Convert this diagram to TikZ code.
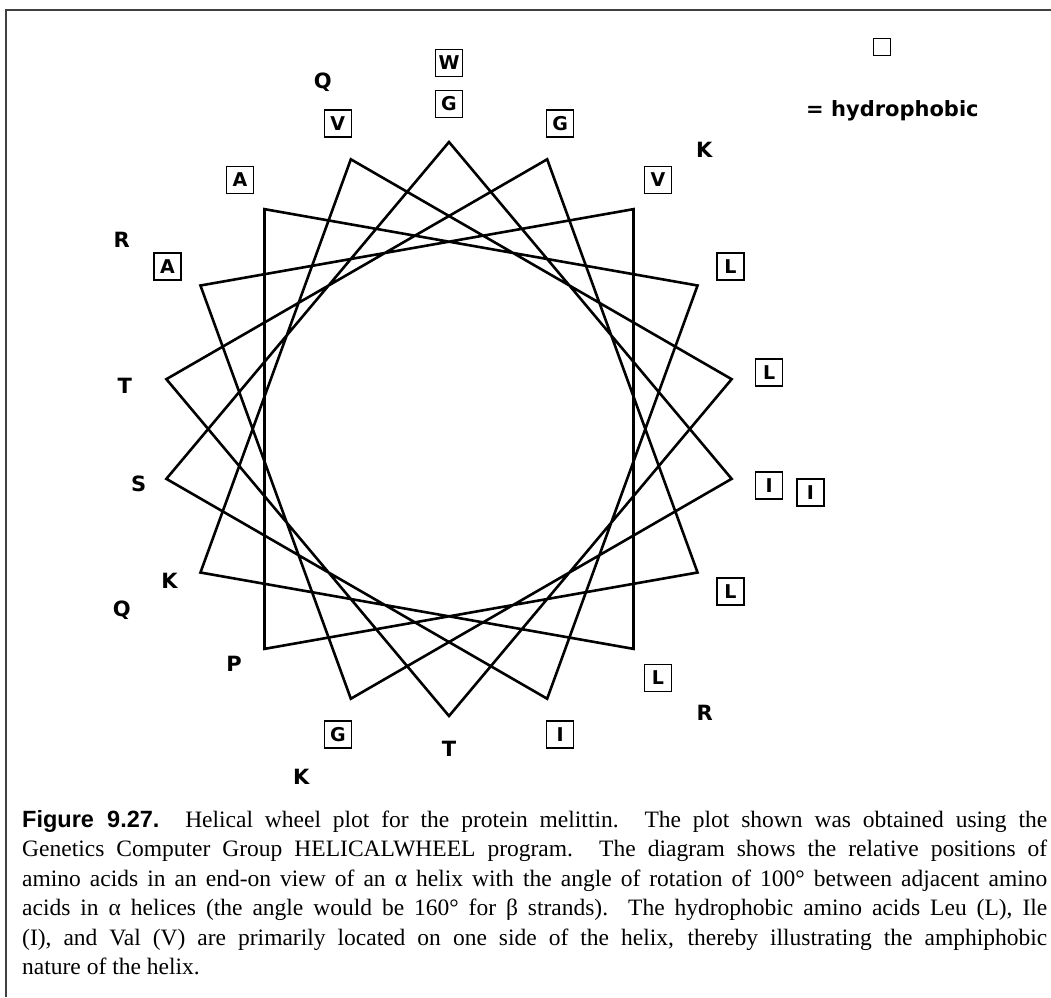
\documentclass[tikz,border=0pt]{standalone}
\usepackage{fontspec}
\setmainfont{Liberation Serif}
\setsansfont{Liberation Sans}
\newfontfamily\wheelfont{DejaVu Sans}
\usepackage{tikz}

\tikzset{
  wheel/.style={line width=2.6pt, line join=miter},
  hyd/.style={draw, line width=1.6pt, minimum size=27pt, inner sep=0pt,
    font=\wheelfont\bfseries\fontsize{19}{19}\selectfont},
  pol/.style={inner sep=0pt, font=\wheelfont\bfseries\fontsize{21}{21}\selectfont},
  caption/.style={inner sep=0pt, text width=1025pt, align=justify,
    font=\fontsize{23.5}{29.5}\selectfont}
}

\begin{document}
\begin{tikzpicture}[x=1pt,y=-1pt]

  \useasboundingbox (0,0) rectangle (1051,997);

  % Frame
  \draw[line width=2pt, black!75] (1051,10) -- (6,10) -- (6,997);

  % Centre of the wheel
  \coordinate (O) at (449,429);

  \begin{scope}[shift={(O)}, y=1pt]
    % Vertices, 100 degrees apart
    \foreach \k in {0,...,17}
      \coordinate (p\k) at ({90-100*\k}:287);

    % Star
    \draw[wheel] (p0) \foreach \k in {1,...,17} { -- (p\k) } -- cycle;

    % Residues (number/letter/style/radius/angle tweak)
    \foreach \n/\aa/\kind/\rad/\da in {1/G/hyd/325/0, 2/I/hyd/325/0, 3/G/hyd/325/0,
        4/A/hyd/325/0, 5/V/hyd/325/0, 6/L/hyd/325/0, 7/K/pol/318/-1.5, 8/V/hyd/325/0,
        9/L/hyd/325/0, 10/T/pol/320/0, 11/T/pol/327/2.5, 12/G/hyd/325/0, 13/L/hyd/325/0,
        14/P/pol/318/-2.5, 15/A/hyd/325/0, 16/L/hyd/325/0, 17/I/hyd/325/0, 18/S/pol/315/0,
        19/W/hyd/366/0, 20/I/hyd/367/0, 21/K/pol/378/-3, 22/R/pol/378/0, 23/K/pol/378/-2.5,
        24/R/pol/382/2, 25/Q/pol/374/-1, 26/Q/pol/369/0}
      \node[\kind] (r\n) at ({90-100*(\n-1)+\da}:\rad) {\aa};
  \end{scope}

  % Key
  \node[draw, line width=1.6pt, minimum size=17pt, inner sep=0pt] (key) at (882,47) {};
  \node[pol, anchor=west] (keytext) at (806,111) {= hydrophobic};

  % Caption
  \node[caption, anchor=base west] (cap) at (22,827) {{\sffamily\bfseries Figure 9.27.}
    Helical wheel plot for the protein melittin. The plot shown was obtained using the\linebreak
    Genetics Computer Group HELICALWHEEL program. The diagram shows the relative positions of\linebreak
    amino acids in an end-on view of an α helix with the angle of rotation of 100° between adjacent amino\linebreak
    acids in α helices (the angle would be 160° for β strands). The hydrophobic amino acids Leu (L), Ile\linebreak
    (I), and Val (V) are primarily located on one side of the helix, thereby illustrating the amphiphobic\linebreak
    nature of the helix.};

\end{tikzpicture}
\end{document}
